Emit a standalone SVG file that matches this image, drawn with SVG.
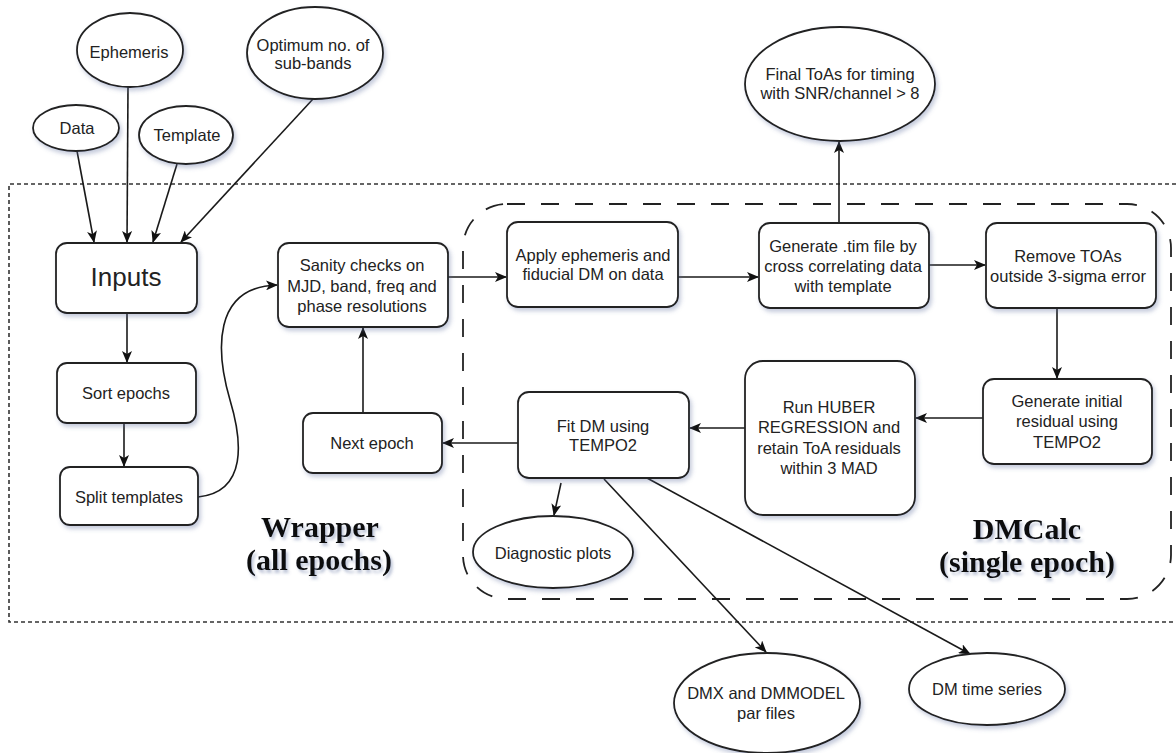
<svg xmlns="http://www.w3.org/2000/svg" width="1176" height="753" viewBox="0 0 1176 753">
<defs>
<filter id="sh" x="-20%" y="-20%" width="140%" height="150%">
<feDropShadow dx="2" dy="3" stdDeviation="2" flood-color="#5a6a9a" flood-opacity="0.35"/>
</filter>
<filter id="tsh" x="-10%" y="-20%" width="120%" height="150%">
<feDropShadow dx="2" dy="3" stdDeviation="1.5" flood-color="#5a6a9a" flood-opacity="0.4"/>
</filter>
<marker id="ah" markerWidth="12" markerHeight="10" refX="11" refY="5" orient="auto" markerUnits="userSpaceOnUse">
<path d="M0,0 L12,5 L0,10 L3,5 z" fill="#111"/>
</marker>
</defs>
<style>
.box{fill:#fff;stroke:#222;stroke-width:1.8;filter:url(#sh)}
.ell{fill:#fff;stroke:#222;stroke-width:1.8;filter:url(#sh)}
.t{font-family:"Liberation Sans",Arial,sans-serif;font-size:16.5px;fill:#222;text-anchor:middle}
.big{font-family:"Liberation Serif","Times New Roman",serif;font-size:30px;font-weight:bold;fill:#111;text-anchor:middle;filter:url(#tsh)}
.c{fill:none;stroke:#1a1a1a;stroke-width:1.6;marker-end:url(#ah)}
.cn{fill:none;stroke:#1a1a1a;stroke-width:1.6}
</style>
<rect width="1176" height="753" fill="#fff"/>

<g id="regions">
<path d="M1190,184 L9,184 L9,622 L1190,622" fill="none" stroke="#333" stroke-width="1.6" stroke-dasharray="4 3"/>
<rect x="463" y="204" width="708" height="395" rx="44" ry="44" fill="none" stroke="#222" stroke-width="1.8" stroke-dasharray="18 16"/>
</g>

<g id="connectors">
<path class="c" d="M77,151 L94,242"/>
<path class="c" d="M128,87 L127,242"/>
<path class="c" d="M177,164 L153,242"/>
<path class="c" d="M313,99 L181,242"/>
<path class="c" d="M127,313 L127,362"/>
<path class="c" d="M124,423 L124,466"/>
<path class="c" d="M198,497 C248,492 242,440 230,400 C216,352 212,287 277,285"/>
<path class="c" d="M363,413 L363,328"/>
<path class="c" d="M448,277 L506,277"/>
<path class="c" d="M678,277 L758,277"/>
<path class="c" d="M929,265 L985,265"/>
<path class="c" d="M839,223 L839,142"/>
<path class="c" d="M1057,308 L1057,378"/>
<path class="c" d="M983,418 L916,418"/>
<path class="c" d="M745,428 L690,428"/>
<path class="c" d="M518,443 L443,443"/>
<path class="c" d="M561,483 L554,515"/>
<path class="c" d="M604,479 L766,652"/>
<path class="c" d="M647,478 L970,654"/>
</g>

<g id="n-ephemeris"><ellipse class="ell" cx="130" cy="50" rx="53" ry="37"/><text class="t" x="129" y="58">Ephemeris</text></g>
<g id="n-data"><ellipse class="ell" cx="76" cy="128" rx="43" ry="23"/><text class="t" x="77" y="134">Data</text></g>
<g id="n-template"><ellipse class="ell" cx="186" cy="135" rx="47" ry="29"/><text class="t" x="187" y="141">Template</text></g>
<g id="n-optimum"><ellipse class="ell" cx="315" cy="53" rx="68" ry="46"/><text class="t" x="313" y="51">Optimum no. of</text><text class="t" x="313" y="69">sub-bands</text></g>
<g id="n-final"><ellipse class="ell" cx="840" cy="84" rx="95" ry="57"/><text class="t" x="840" y="80">Final ToAs for timing</text><text class="t" x="840" y="99">with SNR/channel &gt; 8</text></g>

<g id="n-inputs"><rect class="box" x="56" y="243" width="141" height="70" rx="11"/><text class="t" x="126" y="286" style="font-size:26px">Inputs</text></g>
<g id="n-sort"><rect class="box" x="57" y="363" width="139" height="60" rx="10"/><text class="t" x="126" y="399">Sort epochs</text></g>
<g id="n-split"><rect class="box" x="60" y="467" width="138" height="58" rx="10"/><text class="t" x="129" y="503">Split templates</text></g>
<g id="n-sanity"><rect class="box" x="278" y="243" width="170" height="84" rx="11"/><text class="t" x="362" y="271">Sanity checks on</text><text class="t" x="362" y="291.5">MJD, band, freq and</text><text class="t" x="362" y="312">phase resolutions</text></g>
<g id="n-next"><rect class="box" x="303" y="413" width="139" height="60" rx="10"/><text class="t" x="372" y="449">Next epoch</text></g>

<g id="n-apply"><rect class="box" x="507" y="222" width="171" height="85" rx="11"/><text class="t" x="593" y="261">Apply ephemeris and</text><text class="t" x="593" y="280">fiducial DM on data</text></g>
<g id="n-generate"><rect class="box" x="759" y="223" width="170" height="85" rx="11"/><text class="t" x="843" y="252">Generate .tim file by</text><text class="t" x="843" y="272">cross correlating data</text><text class="t" x="843" y="292">with template</text></g>
<g id="n-remove"><rect class="box" x="986" y="223" width="170" height="85" rx="11"/><text class="t" x="1068" y="262">Remove TOAs</text><text class="t" x="1068" y="282">outside 3-sigma error</text></g>
<g id="n-geninit"><rect class="box" x="983" y="379" width="169" height="85" rx="11"/><text class="t" x="1067" y="407">Generate initial</text><text class="t" x="1067" y="427">residual using</text><text class="t" x="1067" y="448">TEMPO2</text></g>
<g id="n-huber"><rect class="box" x="745" y="361" width="170" height="154" rx="18"/><text class="t" x="829" y="413">Run HUBER</text><text class="t" x="829" y="433">REGRESSION and</text><text class="t" x="829" y="454">retain ToA residuals</text><text class="t" x="829" y="474">within 3 MAD</text></g>
<g id="n-fit"><rect class="box" x="518" y="392" width="171" height="86" rx="11"/><text class="t" x="603" y="432">Fit DM using</text><text class="t" x="603" y="451">TEMPO2</text></g>

<g id="n-diag"><ellipse class="ell" cx="553" cy="552" rx="80" ry="36"/><text class="t" x="553" y="559">Diagnostic plots</text></g>
<g id="n-dmx"><ellipse class="ell" cx="767" cy="703" rx="93" ry="50"/><text class="t" x="766" y="699">DMX and DMMODEL</text><text class="t" x="766" y="719">par files</text></g>
<g id="n-dmts"><ellipse class="ell" cx="987" cy="689" rx="78" ry="36"/><text class="t" x="987" y="695">DM time series</text></g>

<g id="labels">
<text class="big" x="320" y="537">Wrapper</text>
<text class="big" x="319" y="570">(all epochs)</text>
<text class="big" x="1027" y="539">DMCalc</text>
<text class="big" x="1027" y="572">(single epoch)</text>
</g>
</svg>
